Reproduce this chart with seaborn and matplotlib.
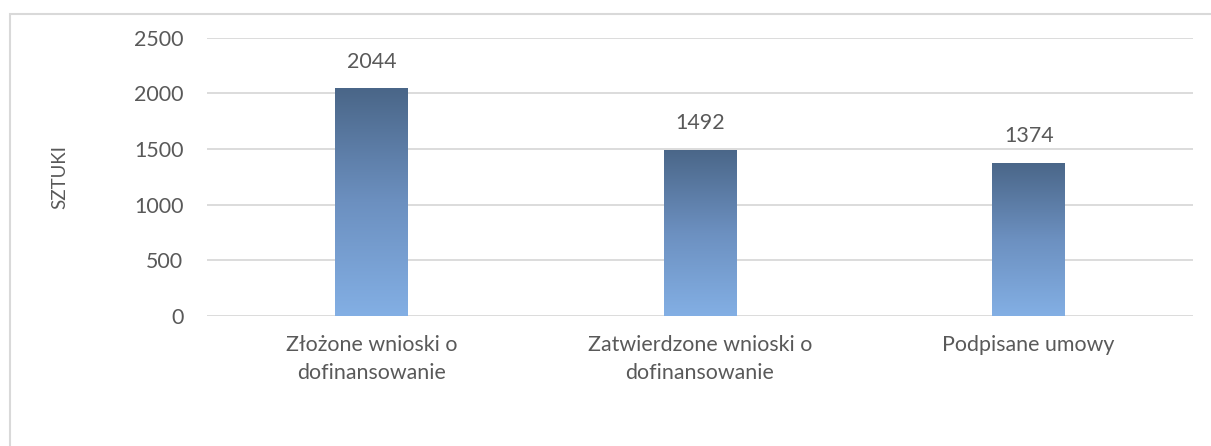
import numpy as np
import pandas as pd
import matplotlib
matplotlib.use("Agg")
import matplotlib.pyplot as plt
from matplotlib.colors import LinearSegmentedColormap
from matplotlib.patches import Rectangle
import seaborn as sns

categories = ["Złożone wnioski o\ndofinansowanie", "Zatwierdzone wnioski o\ndofinansowanie", "Podpisane umowy"]
values = [2044, 1492, 1374]
y_ticks = [0, 500, 1000, 1500, 2000, 2500]
y_label = "SZTUKI"

sns.set_theme(style="white")
plt.rcParams['font.family'] = ['Lato', 'DejaVu Sans']
text_color = "#595959"
fs = 15.4

fig = plt.figure(figsize=(12.11, 4.46), dpi=100)
ax = fig.add_axes([207/1211, 1-316/446, (1193-207)/1211, (316-37.5)/446])

df = pd.DataFrame({"cat": categories, "val": values})
sns.barplot(data=df, x="cat", y="val", ax=ax, width=0.222, color="#6A8FBE", saturation=1, zorder=3)

ax.set_ylim(0, 2500)
ax.set_yticks(y_ticks)
ax.set_xlim(-0.5, len(categories) - 0.5)
ax.yaxis.grid(True, color="#D9D9D9", linewidth=1.3, zorder=0)
ax.set_axisbelow(True)
for s in ax.spines.values():
    s.set_visible(False)
ax.tick_params(axis="y", length=0, pad=17, labelsize=fs, labelcolor=text_color)
ax.tick_params(axis="x", length=0, pad=14, labelsize=fs, labelcolor=text_color)
ax.set_xlabel("")
ax.set_ylabel(y_label, fontsize=13.5, color=text_color, labelpad=47)

cmap = LinearSegmentedColormap.from_list("g", ["#83AFE4", "#6C90C0", "#4A6688"])
grad = np.linspace(0, 1, 256).reshape(-1, 1)
for p, v in zip(ax.patches, values):
    x0, w, h = p.get_x(), p.get_width(), p.get_height()
    p.set_facecolor("none")
    p.set_edgecolor("none")
    im = ax.imshow(grad, cmap=cmap, origin="lower", aspect="auto",
                   extent=[x0, x0 + w, 0, h], zorder=3, interpolation="bilinear")
    im.set_clip_path(p)
    ax.annotate(f"{v}", (x0 + w / 2, h), xytext=(0, 12), textcoords="offset points",
                ha="center", va="bottom", fontsize=fs, color=text_color)
ax.set_xlim(-0.5, len(categories) - 0.5)
ax.set_ylim(0, 2500)

for lbl in ax.get_xticklabels():
    lbl.set_linespacing(1.5)

fig.patches.append(Rectangle((10/1211, -0.5), 1.5, 0.5 + 1 - 14/446, transform=fig.transFigure,
                             fill=False, edgecolor="#D9D9D9", linewidth=1.5))

fig.savefig("out.png", dpi=100, facecolor="white")
